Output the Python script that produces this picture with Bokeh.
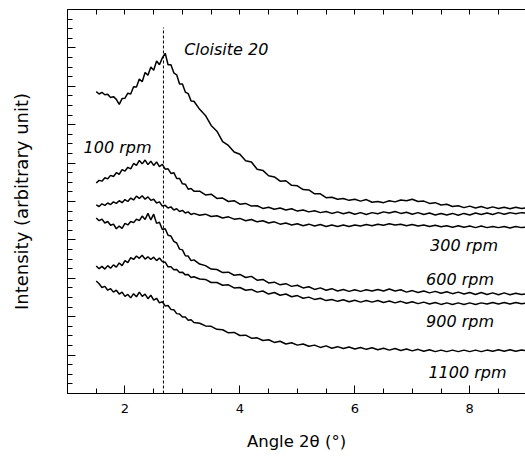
from bokeh.plotting import figure
from bokeh.models import (Range1d, LinearAxis, SingleIntervalTicker, FixedTicker,
                          ColumnDataSource, CustomLabelingPolicy)
from bokeh.core.properties import value
from bokeh.embed import file_html
from bokeh.resources import INLINE

# ---- data ----
angle = [1.50, 1.55, 1.60, 1.65, 1.70, 1.75, 1.80, 1.85, 1.90, 1.95,
         2.00, 2.05, 2.10, 2.15, 2.20, 2.25, 2.30, 2.35, 2.40, 2.45,
         2.50, 2.55, 2.60, 2.65, 2.70, 2.75, 2.80, 2.85, 2.90, 2.95,
         3.00, 3.05, 3.10, 3.15, 3.20,
         3.3, 3.4, 3.5, 3.6, 3.7, 3.8, 3.9, 4.0,
         4.1, 4.2, 4.3, 4.4, 4.5, 4.6, 4.7, 4.8, 4.9, 5.0,
         5.1, 5.2, 5.3, 5.4, 5.5, 5.6, 5.7, 5.8, 5.9, 6.0,
         6.1, 6.2, 6.3, 6.4, 6.5, 6.6, 6.7, 6.8, 6.9, 7.0,
         7.1, 7.2, 7.3, 7.4, 7.5, 7.6, 7.7, 7.8, 7.9, 8.0,
         8.1, 8.2, 8.3, 8.4, 8.5, 8.6, 8.7, 8.8, 8.9, 9.0]

cloisite20 = [78.6, 78.0, 78.4, 77.8, 77.9, 77.1, 77.3, 76.6, 75.3, 76.8,
              76.9, 78.2, 78.0, 79.9, 79.8, 81.9, 81.2, 83.6, 82.9, 85.0,
              84.2, 86.6, 85.6, 87.4, 88.6, 85.6, 85.6, 83.5, 83.0, 80.6,
              80.6, 78.5, 78.1, 76.2, 76.1,
              74.0, 72.4, 69.8, 68.3, 65.6, 64.6, 62.9, 62.3,
              60.6, 60.3, 58.4, 58.1, 56.7, 56.4, 55.3, 55.4, 54.2, 54.1,
              53.1, 53.0, 52.0, 52.0, 51.0, 51.1, 50.6, 50.8, 50.3, 50.6,
              50.1, 50.5, 49.8, 50.0, 49.7, 50.2, 49.9, 50.4, 50.2, 50.6,
              50.0, 50.1, 49.5, 49.7, 49.1, 49.3, 48.7, 48.9, 48.4, 48.8,
              48.3, 48.7, 48.2, 48.6, 48.2, 48.5, 48.1, 48.5, 48.2, 48.4]

rpm100 = [54.8, 55.5, 55.3, 56.2, 55.9, 56.8, 56.5, 57.5, 57.1, 58.3,
          57.9, 58.9, 58.5, 59.9, 59.4, 60.7, 59.8, 60.8, 59.6, 60.5,
          59.4, 60.3, 59.1, 59.7, 58.4, 58.5, 57.3, 57.5, 56.0, 56.0,
          54.6, 54.5, 53.2, 53.4, 52.7,
          52.7, 51.7, 51.9, 50.8, 50.9, 50.0, 50.2, 49.3,
          49.5, 48.8, 48.9, 48.2, 48.5, 48.0, 48.3, 47.8, 48.1, 47.5,
          47.8, 47.3, 47.6, 47.1, 47.4, 46.9, 47.3, 46.8, 47.2, 46.7,
          47.1, 46.6, 47.1, 46.8, 47.3, 47.0, 47.4, 46.9, 47.2, 46.7,
          47.1, 46.6, 47.0, 46.5, 46.9, 46.5, 46.9, 46.4, 46.9, 46.5,
          47.0, 46.6, 47.0, 46.6, 47.1, 46.7, 47.1, 46.8, 47.1, 46.9]

rpm300 = [49.1, 48.7, 49.4, 49.0, 49.6, 49.2, 49.9, 49.5, 50.2, 49.7,
          50.5, 50.0, 50.9, 50.4, 51.4, 50.8, 51.5, 50.6, 51.2, 50.3,
          50.6, 49.6, 49.9, 48.8, 49.0, 48.3, 48.6, 47.8, 48.1, 47.4,
          47.7, 47.0, 47.3, 46.6, 46.9,
          46.4, 46.7, 46.1, 46.3, 45.7, 46.0, 45.4, 45.6,
          45.0, 45.3, 44.7, 45.0, 44.4, 44.7, 44.1, 44.4, 43.9, 44.2,
          43.7, 44.1, 43.6, 44.0, 43.5, 43.9, 43.5, 43.9, 43.5, 43.9,
          43.6, 44.0, 43.7, 44.1, 43.8, 44.2, 43.9, 44.1, 43.7, 44.0,
          43.6, 43.9, 43.5, 43.8, 43.4, 43.7, 43.3, 43.7, 43.3, 43.6,
          43.2, 43.6, 43.2, 43.5, 43.2, 43.5, 43.1, 43.5, 43.2, 43.4]

rpm600 = [45.7, 45.0, 45.4, 44.4, 44.8, 43.8, 44.1, 42.9, 43.6, 43.0,
          44.3, 43.9, 44.8, 44.5, 45.4, 45.0, 46.2, 45.3, 46.9, 45.2,
          46.7, 44.3, 44.6, 42.7, 42.9, 41.2, 41.0, 39.6, 39.2, 37.6,
          37.4, 35.9, 35.8, 34.6, 34.8,
          33.7, 33.3, 32.4, 32.3, 31.5, 31.6, 30.8, 31.0,
          30.2, 30.5, 29.5, 29.7, 28.8, 29.0, 28.3, 28.6, 27.9, 28.2,
          27.5, 27.8, 27.1, 27.5, 26.9, 27.3, 26.7, 27.1, 26.6, 27.0,
          26.6, 27.0, 26.7, 27.1, 26.7, 27.2, 26.7, 27.0, 26.4, 26.8,
          26.3, 26.7, 26.2, 26.6, 26.1, 26.5, 26.0, 26.4, 25.9, 26.3,
          25.8, 26.3, 25.8, 26.2, 25.7, 26.2, 25.7, 26.1, 25.8, 26.0]

rpm900 = [33.2, 32.5, 33.1, 32.4, 33.3, 32.6, 33.5, 32.9, 34.0, 33.3,
          34.6, 34.1, 35.4, 34.9, 35.8, 35.2, 36.0, 35.0, 35.6, 34.9,
          35.5, 34.6, 35.3, 34.4, 34.2, 33.0, 33.0, 32.2, 32.3, 31.5,
          31.6, 30.9, 31.0, 30.2, 30.4,
          29.8, 29.7, 28.9, 28.9, 28.2, 28.3, 27.5, 27.6,
          26.9, 27.1, 26.4, 26.7, 25.9, 26.3, 25.6, 25.9, 25.2, 25.5,
          24.8, 25.1, 24.5, 24.8, 24.2, 24.5, 24.0, 24.4, 23.9, 24.3,
          23.8, 24.2, 23.8, 24.2, 23.7, 24.1, 23.6, 24.0, 23.5, 23.9,
          23.4, 23.8, 23.3, 23.7, 23.2, 23.6, 23.2, 23.6, 23.2, 23.6,
          23.2, 23.6, 23.3, 23.7, 23.3, 23.7, 23.3, 23.7, 23.4, 23.6]

rpm1100 = [29.3, 28.6, 27.6, 27.9, 26.9, 27.3, 26.4, 26.9, 25.9, 26.4,
           25.3, 25.8, 24.9, 26.0, 25.2, 26.4, 25.3, 25.9, 24.7, 25.6,
           24.3, 24.8, 23.6, 23.9, 22.8, 22.9, 21.9, 21.8, 20.8, 20.7,
           19.9, 19.9, 19.1, 19.2, 18.5,
           18.3, 17.6, 17.5, 16.7, 16.6, 15.8, 15.9, 15.1,
           15.2, 14.4, 14.5, 13.8, 14.0, 13.3, 13.6, 12.9, 13.2, 12.6,
           12.9, 12.3, 12.6, 12.0, 12.4, 11.8, 12.2, 11.7, 12.1, 11.6,
           12.0, 11.5, 11.9, 11.4, 11.8, 11.3, 11.7, 11.2, 11.6, 11.1,
           11.5, 11.0, 11.4, 10.9, 11.3, 10.9, 11.3, 10.9, 11.3, 10.9,
           11.3, 10.9, 11.3, 11.0, 11.4, 11.0, 11.4, 11.0, 11.3, 11.1]

series = [cloisite20, rpm100, rpm300, rpm600, rpm900, rpm1100]

label_text = ["Cloisite 20", "100 rpm", "300 rpm", "600 rpm", "900 rpm", "1100 rpm"]
label_x = [3.03, 1.28, 7.31, 7.24, 7.24, 7.28]
label_y = [89.6, 64.0, 38.5, 29.7, 18.8, 5.5]

peak_angle = [2.67]
peak_top = [95.3]
peak_bottom = [0.0]

x_ticks_top = [1.5, 2.0, 2.5, 3.0, 3.5, 4.0, 4.5, 5.0, 5.5, 6.0, 6.5, 7.0, 7.5, 8.0, 8.5]

FONT = "DejaVu Sans"

HIDE_CODE = """
    const all = Array.from(indices)
    for (const i of all) indices.unset(i)
    return indices
"""

p = figure(width=525, height=459, output_backend="svg", toolbar_location=None,
           x_range=Range1d(1.0, 8.97), y_range=Range1d(0, 100),
           min_border_left=67, min_border_right=0, min_border_top=9,
           min_border_bottom=66, x_axis_location=None, y_axis_location=None)
p.outline_line_color = None
p.grid.visible = False
p.background_fill_color = "white"
p.border_fill_color = "white"

# bottom axis
xa = LinearAxis(ticker=SingleIntervalTicker(interval=2, num_minor_ticks=4))
xa.axis_label = "Angle 2θ (°)"
xa.axis_label_text_font = FONT
xa.axis_label_text_font_style = "normal"
xa.axis_label_text_font_size = "16.5px"
xa.axis_label_text_color = "black"
xa.axis_label_standoff = 16
xa.major_label_text_font = FONT
xa.major_label_text_font_size = "13px"
xa.major_label_text_color = "black"
xa.major_label_standoff = 10
xa.major_tick_in = 8
xa.major_tick_out = 0
xa.minor_tick_in = 5
xa.minor_tick_out = 0
xa.axis_line_color = "black"
xa.major_tick_line_color = "black"
xa.minor_tick_line_color = "black"
p.add_layout(xa, "below")

# left axis (ticks, no tick labels)
ya = LinearAxis(ticker=SingleIntervalTicker(interval=10, num_minor_ticks=4))
ya.axis_label = "Intensity (arbitrary unit)"
ya.axis_label_text_font = FONT
ya.axis_label_text_font_style = "normal"
ya.axis_label_text_font_size = "18px"
ya.axis_label_text_color = "black"
ya.axis_label_standoff = 36
ya.major_label_policy = CustomLabelingPolicy(code=HIDE_CODE)
ya.major_label_text_font_size = "0px"
ya.major_label_standoff = 0
ya.major_tick_in = 8
ya.major_tick_out = 0
ya.minor_tick_in = 5
ya.minor_tick_out = 0
ya.axis_line_color = "black"
p.add_layout(ya, "left")

# top axis (ticks only)
ta = LinearAxis(ticker=FixedTicker(ticks=x_ticks_top, minor_ticks=[]))
ta.major_label_policy = CustomLabelingPolicy(code=HIDE_CODE)
ta.major_label_text_font_size = "0px"
ta.major_label_standoff = 0
ta.major_tick_in = 5
ta.major_tick_out = 0
ta.axis_line_color = "black"
p.add_layout(ta, "above")

# curves
for s in series:
    p.line(angle, s, line_color="black", line_width=1.5)

# dashed peak line
p.segment(x0=peak_angle, y0=peak_bottom, x1=peak_angle, y1=peak_top,
          line_color="black", line_width=1, line_dash="3 2")

# labels
src = ColumnDataSource(dict(x=label_x, y=label_y, t=label_text))
p.text(x="x", y="y", text="t", source=src, text_font=value(FONT),
       text_font_style="italic", text_font_size=value("16px"),
       text_color="black", text_baseline="middle", text_align="left")

open("out.html", "w").write(file_html(p, INLINE))
